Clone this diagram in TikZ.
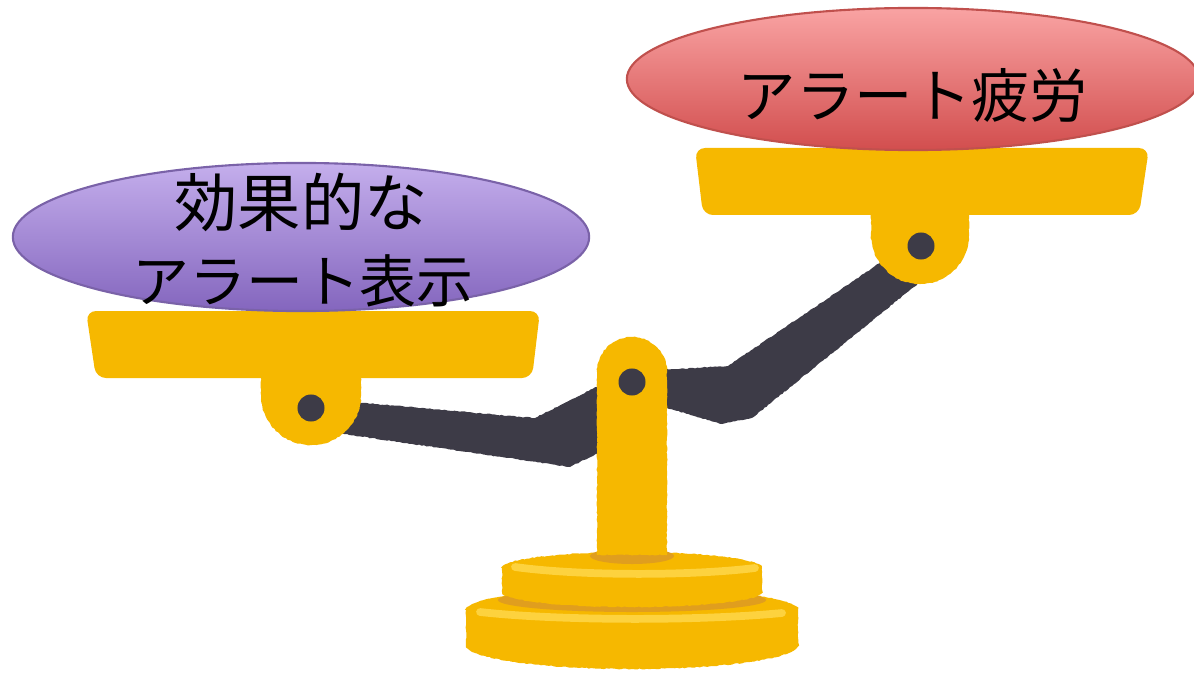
\documentclass[tikz,border=0pt]{standalone}
\usepackage{fontspec}
\usepackage{xcolor}
\usepackage{tikz}
\usetikzlibrary{shapes.geometric,positioning,calc,decorations.pathmorphing}
\newfontfamily\jpfont{Noto Sans CJK JP}

\definecolor{gold}{HTML}{F6B800}
\definecolor{goldhi}{HTML}{FDD23E}
\definecolor{goldsh}{HTML}{E09E1E}
\definecolor{beamgray}{HTML}{3D3B47}
\definecolor{lavtop}{HTML}{C4AEEC}
\definecolor{lavbot}{HTML}{8466BE}
\definecolor{lavline}{HTML}{7A62A8}
\definecolor{rosetop}{HTML}{F9A3A3}
\definecolor{rosebot}{HTML}{D24E4E}
\definecolor{roseline}{HTML}{C0504D}

\begin{document}
\begin{tikzpicture}[x=0.01cm,y=-0.01cm,
    fuzzy/.style={decorate,decoration={random steps,segment length=0.025cm,amplitude=0.005cm}},
    metal/.style={fill=gold,fuzzy},
    pan/.style={fill=gold,rounded corners=0.1cm},
    pin/.style={circle,fill=beamgray,minimum size=0.27cm,inner sep=0pt},
    weight/.style={ellipse,line width=0.6pt,inner sep=0pt},
    label/.style={font=\jpfont,align=center,inner sep=0pt}]
    \useasboundingbox (0,0) rectangle (1194,673);

    % pivots
    \coordinate (lpivot) at (311,408);
    \coordinate (rpivot) at (921,246);
    \coordinate (cpivot) at (632,382);

    % beam, behind everything
    \fill[beamgray,fuzzy] (330,400) -- (535,418) -- (600,385) -- (600,452) -- (570,467) -- (330,432) -- cycle;
    \fill[beamgray,fuzzy] (660,370) -- (728,366) -- (890,256) -- (920,282) -- (752,418) -- (722,424) -- (660,406) -- cycle;

    % hangers and pans
    \fill[metal] (261,370) -- (261,395) arc[start angle=180,end angle=360,radius=0.5cm] -- (361,370) -- cycle;
    \fill[metal] (871,210) -- (871,235) arc[start angle=180,end angle=360,radius=0.49cm] -- (969,210) -- cycle;
    \fill[pan] (86,311) -- (540,311) -- (532,378) -- (96,378) -- cycle;
    \fill[pan] (695,148) -- (1149,148) -- (1139,215) -- (703,215) -- cycle;
    \node[pin] (ldot) at (lpivot) {};
    \node[pin] (rdot) at (rpivot) {};

    % weights
    \node[weight,draw=lavline,top color=lavtop,bottom color=lavbot,minimum width=5.76cm,minimum height=1.48cm] (good) at (301,237) {};
    \node[label,font=\jpfont\fontsize{18pt}{22pt}\selectfont] (goodtop) at (301,202) {効果的な};
    \node[label,font=\jpfont\fontsize{16.2pt}{20pt}\selectfont] (goodbot) at (303,281) {アラート表示};
    \node[weight,draw=roseline,top color=rosetop,bottom color=rosebot,minimum width=5.72cm,minimum height=1.42cm] (fatigue) at (913,79) {};
    \node[label,font=\jpfont\fontsize{16.6pt}{20pt}\selectfont] (fatiguetext) at (913,95) {アラート疲労};

    % stand
    \fill[metal] (466,610) -- (466,645) arc[start angle=180,end angle=360,x radius=1.66cm,y radius=0.24cm] -- (798,610) arc[start angle=0,end angle=180,x radius=1.66cm,y radius=0.22cm] -- cycle;
    \draw[goldhi,line width=2.2pt,line cap=round] (480,612) .. controls (560,621) and (700,621) .. (782,613);
    \fill[goldsh] (632,600) ellipse[x radius=1.34cm,y radius=0.12cm];
    \fill[metal] (502,568) -- (502,592) arc[start angle=180,end angle=360,x radius=1.3cm,y radius=0.15cm] -- (762,568) arc[start angle=0,end angle=180,x radius=1.3cm,y radius=0.16cm] -- cycle;
    \draw[goldhi,line width=2.2pt,line cap=round] (515,567) .. controls (580,576) and (690,576) .. (755,568);
    \fill[goldsh] (632,556) ellipse[x radius=0.42cm,y radius=0.08cm];
    \fill[metal] (597,555) -- (597,372) arc[start angle=180,end angle=0,radius=0.35cm] -- (667,555) -- cycle;
    \node[pin] (cdot) at (cpivot) {};
\end{tikzpicture}
\end{document}
